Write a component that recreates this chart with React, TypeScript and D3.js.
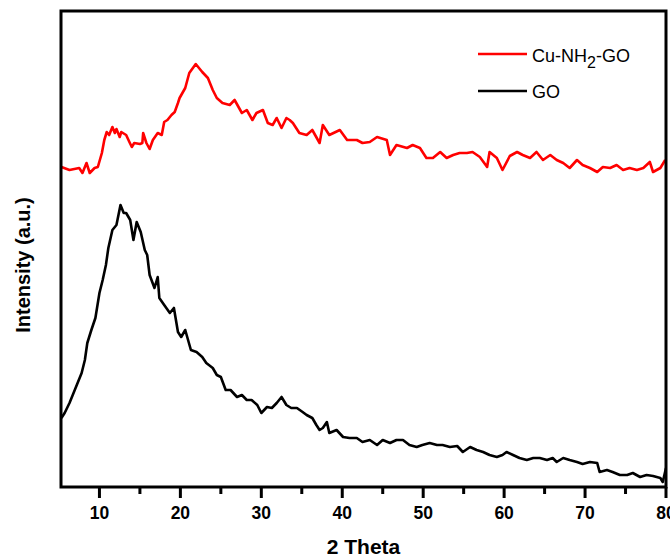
import React from "react";
import * as d3 from "d3";

// 2θ (degrees) and intensity (a.u.)
const cuTheta = [5.3,6.3,7.5,7.9,8.4,8.8,9.4,9.8,10.3,10.6,10.9,11.2,11.6,11.9,12.1,12.5,12.7,13.3,13.7,14.0,14.3,15.0,15.3,15.4,15.8,16.2,16.6,17.2,17.7,18.0,18.4,18.9,19.3,19.7,19.9,20.6,21.1,21.9,22.7,23.4,24.0,24.5,25.2,26.1,26.7,27.6,28.2,28.9,29.4,30.2,30.8,31.4,31.9,32.5,33.1,33.5,33.9,34.7,35.6,36.3,37.2,37.6,38.4,39.7,40.6,41.8,42.5,43.4,44.3,45.5,45.9,46.7,48.0,48.7,49.6,50.4,51.2,52.1,52.9,53.7,54.5,55.4,56.1,57.0,57.9,58.2,59.1,59.8,60.7,61.6,62.3,63.2,64.0,64.8,65.7,66.5,67.3,68.1,69.0,69.7,70.6,71.5,72.2,73.1,73.9,74.7,75.5,76.4,77.2,78.0,78.4,79.3,79.9];
const cuIntensity = [640,634,638,628,648,628,638,640,668,694,710,704,720,708,716,700,710,704,690,680,688,686,688,708,688,676,694,708,704,730,734,744,750,768,778,798,828,846,830,818,794,778,768,764,774,748,754,734,748,754,728,724,738,718,738,734,728,708,704,714,688,724,704,714,694,694,688,690,700,694,664,684,678,684,678,658,658,670,658,664,668,668,670,660,640,670,658,634,662,670,664,658,670,654,664,654,648,638,654,644,638,630,640,638,644,634,638,634,638,650,630,638,654];

const goTheta = [5.3,5.7,6.3,6.7,7.3,7.8,8.2,8.5,9.0,9.5,10.0,10.4,10.8,11.1,11.6,12.1,12.6,13.0,13.3,13.8,14.2,14.6,15.1,15.6,15.9,16.2,16.8,17.2,17.4,18.0,18.7,19.2,19.7,20.1,20.6,21.3,22.0,22.7,23.2,24.0,24.5,25.0,25.6,26.2,27.0,27.6,28.2,28.8,29.5,30.0,30.7,31.3,31.9,32.5,33.1,33.7,34.4,35.1,35.6,36.3,36.8,37.2,37.6,38.1,38.4,39.3,40.1,40.9,41.8,42.5,43.4,44.3,45.0,45.9,46.7,47.5,48.3,49.2,49.9,50.8,51.7,52.4,53.3,54.2,54.9,55.8,56.6,57.4,58.2,59.1,59.8,60.3,61.1,61.9,62.8,63.6,64.4,65.3,66.0,66.5,67.3,68.1,69.0,69.7,70.6,71.5,71.8,72.7,73.4,74.3,75.2,75.9,76.8,77.6,78.4,79.3,79.6,80.0];
const goIntensity = [138,148,168,184,208,228,254,288,314,338,388,414,444,478,514,524,564,548,548,534,494,530,510,474,464,424,398,420,378,364,348,358,310,300,314,274,270,260,248,238,224,220,194,194,180,184,174,174,164,148,160,158,168,180,164,158,158,150,144,138,124,114,118,130,108,114,100,98,98,90,94,84,94,88,94,94,84,80,84,88,84,84,80,82,70,80,74,70,64,60,64,70,64,58,54,58,58,54,58,50,58,54,50,46,50,48,30,34,30,24,24,28,20,24,22,18,10,38];

const xTicks = [10, 20, 30, 40, 50, 60, 70, 80];
const xMinorTicks = [15, 25, 35, 45, 55, 65, 75];
const seriesNames = ["Cu-NH2-GO", "GO"];
const seriesColors = ["#ff0000", "#000000"];

export default function App() {
  const W = 670, H = 557;
  const left = 61, right = 666, top = 11, bottom = 487;
  const x = d3.scaleLinear().domain([5.25, 80]).range([left, right]);
  const y = d3.scaleLinear().domain([0, 952]).range([bottom, top]);

  const mk = (th: number[], it: number[]) =>
    d3
      .line<[number, number]>()
      .x((d) => x(d[0]))
      .y((d) => y(d[1]))(th.map((t, i) => [t, it[i]] as [number, number])) || "";

  const cuPath = mk(cuTheta, cuIntensity);
  const goPath = mk(goTheta, goIntensity);

  const font = "'Liberation Sans', Arial, sans-serif";

  return (
    <svg width={W} height={H} style={{ position: "absolute", left: 0, top: 0, background: "#fff" }}>
      <defs>
        <clipPath id="plot">
          <rect x={left} y={top} width={right - left} height={bottom - top} />
        </clipPath>
      </defs>
      <g clipPath="url(#plot)" fill="none" strokeLinejoin="round">
        <path d={goPath} stroke={seriesColors[1]} strokeWidth={2.6} />
        <path d={cuPath} stroke={seriesColors[0]} strokeWidth={2.6} />
      </g>
      <rect x={left} y={top} width={right - left} height={bottom - top} fill="none" stroke="#000" strokeWidth={3} />
      {xTicks.map((t) => (
        <g key={t}>
          <line x1={x(t)} x2={x(t)} y1={bottom} y2={bottom + 11} stroke="#000" strokeWidth={3} />
          <text x={x(t)} y={519} textAnchor="middle" fontFamily={font} fontWeight="bold" fontSize={17.5} fill="#000">
            {t}
          </text>
        </g>
      ))}
      {xMinorTicks.map((t) => (
        <line key={t} x1={x(t)} x2={x(t)} y1={bottom} y2={bottom + 7} stroke="#000" strokeWidth={3} />
      ))}
      <text x={(left + right) / 2} y={554} textAnchor="middle" fontFamily={font} fontWeight="bold" fontSize={21} fill="#000">
        2 Theta
      </text>
      <text
        transform={`translate(30, ${(top + bottom) / 2 + 16}) rotate(-90)`}
        textAnchor="middle"
        fontFamily={font}
        fontWeight="bold"
        fontSize={20}
        fill="#000"
      >
        Intensity (a.u.)
      </text>
      {/* legend */}
      <line x1={478} x2={527} y1={54} y2={54} stroke={seriesColors[0]} strokeWidth={2.4} />
      <text x={532} y={62} fontFamily={font} fontSize={18} fill="#000">
        Cu-NH<tspan dy={6} fontSize={16}>2</tspan>
        <tspan dy={-6}>-GO</tspan>
      </text>
      <line x1={478} x2={527} y1={91} y2={91} stroke={seriesColors[1]} strokeWidth={2.4} />
      <text x={532} y={98} fontFamily={font} fontSize={18} fill="#000">
        {seriesNames[1]}
      </text>
    </svg>
  );
}
